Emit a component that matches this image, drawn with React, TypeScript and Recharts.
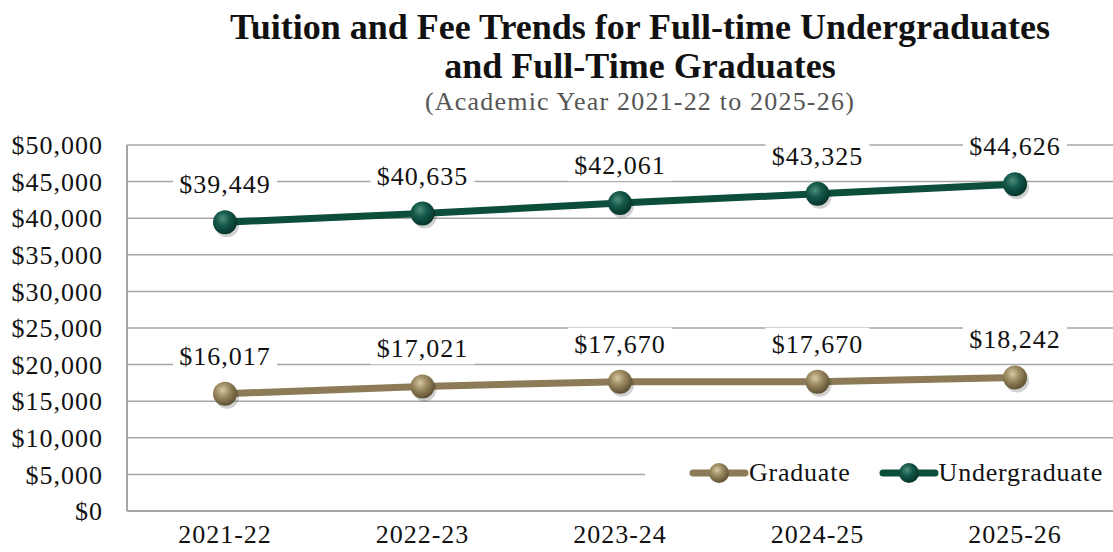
import { LineChart, Line, XAxis, YAxis, CartesianGrid, LabelList } from 'recharts'

const years = ['2021-22', '2022-23', '2023-24', '2024-25', '2025-26']
const undergraduate = [39449, 40635, 42061, 43325, 44626]
const graduate = [16017, 17021, 17670, 17670, 18242]
const yTicks = [0, 5000, 10000, 15000, 20000, 25000, 30000, 35000, 40000, 45000, 50000]

const data = years.map((year, i) => ({
  year,
  Graduate: graduate[i],
  Undergraduate: undergraduate[i],
}))

const FONT = '"Liberation Serif", "DejaVu Serif", serif'
const GREEN = '#0c4e3b'
const TAN = '#8c7b56'

function money(v: number): string {
  return '$' + v.toLocaleString('en-US')
}

function Ball({ cx, cy, grad }: { cx?: number; cy?: number; grad: string }) {
  if (cx == null || cy == null) return null
  return (
    <g>
      <circle cx={cx + 2} cy={cy + 3} r={12} fill="rgba(0,0,0,0.18)" />
      <circle cx={cx} cy={cy} r={12} fill={`url(#${grad})`} />
    </g>
  )
}

function ValueLabel(props: any) {
  const { x, y, value } = props
  if (x == null || y == null) return null
  const w = 104
  return (
    <g>
      <rect x={x - w / 2} y={y - 54} width={w} height={32} fill="#fff" />
      <text
        x={x}
        y={y - 29}
        textAnchor="middle"
        fontFamily={FONT}
        fontSize={26}
        letterSpacing={1}
        fill="#111"
      >
        {money(value)}
      </text>
    </g>
  )
}

const legendStops: Record<string, string[]> = {
  Graduate: ['#d8c9a2', '#9c8a60', '#5f5234'],
  Undergraduate: ['#4f8f7b', '#14594a', '#06342a'],
}

function LegendIcon({ name, color }: { name: string; color: string }) {
  const s = legendStops[name]
  return (
    <svg width={60} height={24} style={{ display: 'block' }}>
      <defs>
        <radialGradient id={'leg' + name} cx="40%" cy="35%" r="65%">
          <stop offset="0%" stopColor={s[0]} />
          <stop offset="45%" stopColor={s[1]} />
          <stop offset="100%" stopColor={s[2]} />
        </radialGradient>
      </defs>
      <line x1={4} y1={12} x2={56} y2={12} stroke={color} strokeWidth={7} strokeLinecap="round" />
      <circle cx={30} cy={12} r={10} fill={`url(#leg${name})`} />
    </svg>
  )
}

function LegendBox() {
  const items = [
    { name: 'Graduate', color: TAN },
    { name: 'Undergraduate', color: GREEN },
  ]
  return (
    <div
      style={{
        position: 'absolute',
        left: 645,
        top: 457,
        width: 468,
        height: 32,
        display: 'flex',
        alignItems: 'center',
        justifyContent: 'flex-end',
        background: '#fff',
        boxSizing: 'border-box',
        paddingRight: 10,
        fontFamily: FONT,
        fontSize: 26,
        letterSpacing: 0.8,
        color: '#111',
      }}
    >
      {items.map((it) => (
        <div key={it.name} style={{ display: 'flex', alignItems: 'center', marginLeft: 28 }}>
          <LegendIcon name={it.name} color={it.color} />
          <span>{it.name}</span>
        </div>
      ))}
    </div>
  )
}

export default function App() {
  return (
    <div style={{ position: 'absolute', left: 0, top: 0, width: 1113, height: 552, background: '#fff' }}>
      <div
        style={{
          position: 'absolute',
          left: 140,
          width: 1000,
          top: 8,
          textAlign: 'center',
          fontFamily: FONT,
          fontWeight: 'bold',
          fontSize: 36,
          lineHeight: '39px',
          color: '#111',
        }}
      >
        Tuition and Fee Trends for Full-time Undergraduates
        <br />
        and Full-Time Graduates
      </div>
      <div
        style={{
          position: 'absolute',
          left: 140,
          width: 1000,
          top: 89,
          textAlign: 'center',
          fontFamily: FONT,
          fontSize: 26,
          lineHeight: '26px',
          letterSpacing: 1.2,
          color: '#555',
        }}
      >
        (Academic Year 2021-22 to 2025-26)
      </div>
      <LineChart
        width={1113}
        height={552}
        data={data}
        margin={{ top: 145, right: 0, left: 0, bottom: 0 }}
        style={{ position: 'absolute', left: 0, top: 0 }}
      >
        <defs>
          <radialGradient id="gradGreen" cx="40%" cy="35%" r="65%">
            <stop offset="0%" stopColor="#4f8f7b" />
            <stop offset="45%" stopColor="#14594a" />
            <stop offset="100%" stopColor="#06342a" />
          </radialGradient>
          <radialGradient id="gradTan" cx="40%" cy="35%" r="65%">
            <stop offset="0%" stopColor="#d8c9a2" />
            <stop offset="45%" stopColor="#9c8a60" />
            <stop offset="100%" stopColor="#5f5234" />
          </radialGradient>
        </defs>
        <CartesianGrid vertical={false} stroke="#a6a6a6" strokeWidth={1.5} />
        <XAxis
          dataKey="year"
          height={41}
          padding={{ left: 98, right: 98 }}
          axisLine={{ stroke: '#a6a6a6', strokeWidth: 2 }}
          tickLine={false}
          tickSize={0}
          tickMargin={14}
          tick={{ fontFamily: FONT, fontSize: 26, fill: '#111', letterSpacing: 1 }}
        />
        <YAxis
          width={127}
          domain={[0, 50000]}
          ticks={yTicks}
          interval={0}
          tickFormatter={money}
          axisLine={{ stroke: '#a6a6a6', strokeWidth: 2 }}
          tickLine={false}
          tickSize={0}
          tickMargin={24}
          tick={{ fontFamily: FONT, fontSize: 26, fill: '#111', letterSpacing: 1 }}
        />
        <Line
          type="linear"
          dataKey="Graduate"
          stroke={TAN}
          strokeWidth={7}
          dot={<Ball grad="gradTan" />}
          activeDot={false}
          isAnimationActive={false}
        >
          <LabelList dataKey="Graduate" content={<ValueLabel />} />
        </Line>
        <Line
          type="linear"
          dataKey="Undergraduate"
          stroke={GREEN}
          strokeWidth={7}
          dot={<Ball grad="gradGreen" />}
          activeDot={false}
          isAnimationActive={false}
        >
          <LabelList dataKey="Undergraduate" content={<ValueLabel />} />
        </Line>
      </LineChart>
      <LegendBox />
    </div>
  )
}
